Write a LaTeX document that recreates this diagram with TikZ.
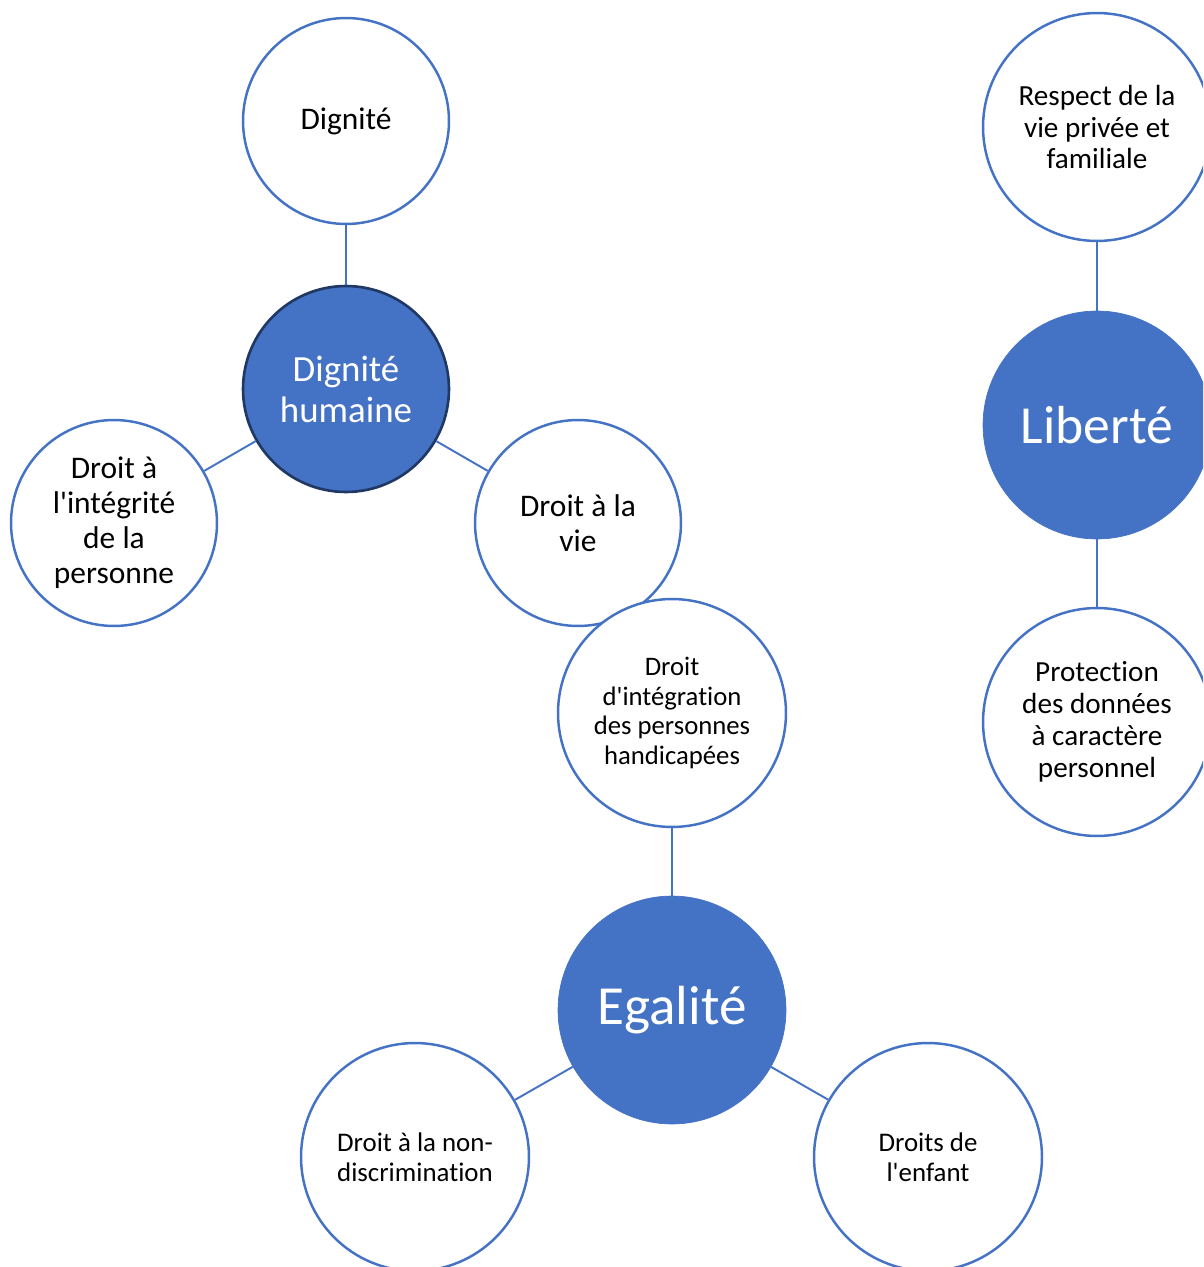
\documentclass[tikz,border=0pt]{standalone}
\usepackage{fontspec}
\setmainfont[Ligatures=NoCommon]{Carlito}

\definecolor{bleu}{HTML}{4472C4}
\definecolor{marine}{HTML}{1F3864}

\tikzset{
  petit/.style={circle, draw=bleu, line width=1.4pt, fill=white, inner sep=0pt, align=center, minimum size=4.12cm},
  moyen/.style={petit, minimum size=4.56cm},
  grand/.style={circle, draw=bleu, fill=bleu, text=white, inner sep=0pt, align=center, minimum size=4.56cm},
  lien/.style={draw=bleu, line width=1.1pt}
}

\begin{document}
\begin{tikzpicture}[x=0.02cm, y=-0.02cm]
\useasboundingbox (0,0) rectangle (1203,1267);
\clip (0,0) rectangle (1203,1267);

%dignite humaine
\node[petit, font=\fontsize{17.9}{19.9}\selectfont] (dign) at (346,121) {Dignité};
\node[grand, draw=marine, line width=1.5pt, minimum size=4.12cm, font=\fontsize{21}{23.3}\selectfont] (dignh) at (346,389) {Dignité\\humaine};
\node[petit, font=\fontsize{17.9}{19.9}\selectfont] (integ) at (114,523) {Droit à\\l\textquotesingle intégrité\\de la\\personne};
\node[petit, font=\fontsize{17.9}{19.9}\selectfont] (vie) at (578,523) {Droit à la\\vie};

\draw[lien] (dign) -- (dignh);
\draw[lien] (dignh) -- (integ);
\draw[lien] (dignh) -- (vie);

%egalite
\node[moyen, font=\fontsize{15.2}{16.8}\selectfont] (handi) at (672,713) {Droit\\d\textquotesingle intégration\\des personnes\\handicapées};
\node[grand, font=\fontsize{31.4}{35}\selectfont] (egal) at (672,1010) {Egalité};
\node[moyen, font=\fontsize{15.3}{17}\selectfont] (nondisc) at (415,1157) {Droit à la non-\\discrimination};
\node[moyen, font=\fontsize{15.3}{17}\selectfont] (enfant) at (928,1157) {Droits de\\l\textquotesingle enfant};

\draw[lien] (handi) -- (egal);
\draw[lien] (egal) -- (nondisc);
\draw[lien] (egal) -- (enfant);

%liberte
\node[moyen, font=\fontsize{16.6}{18.2}\selectfont] (resp) at (1097,127) {Respect de la\\vie privée et\\familiale};
\node[grand, font=\fontsize{30.5}{36}\selectfont] (lib) at (1097,425) {Liberté};
\node[moyen, font=\fontsize{16.6}{18.2}\selectfont] (protect) at (1097,722) {Protection\\des données\\à caractère\\personnel};

\draw[lien] (resp) -- (lib);
\draw[lien] (lib) -- (protect);

\end{tikzpicture}
\end{document}
